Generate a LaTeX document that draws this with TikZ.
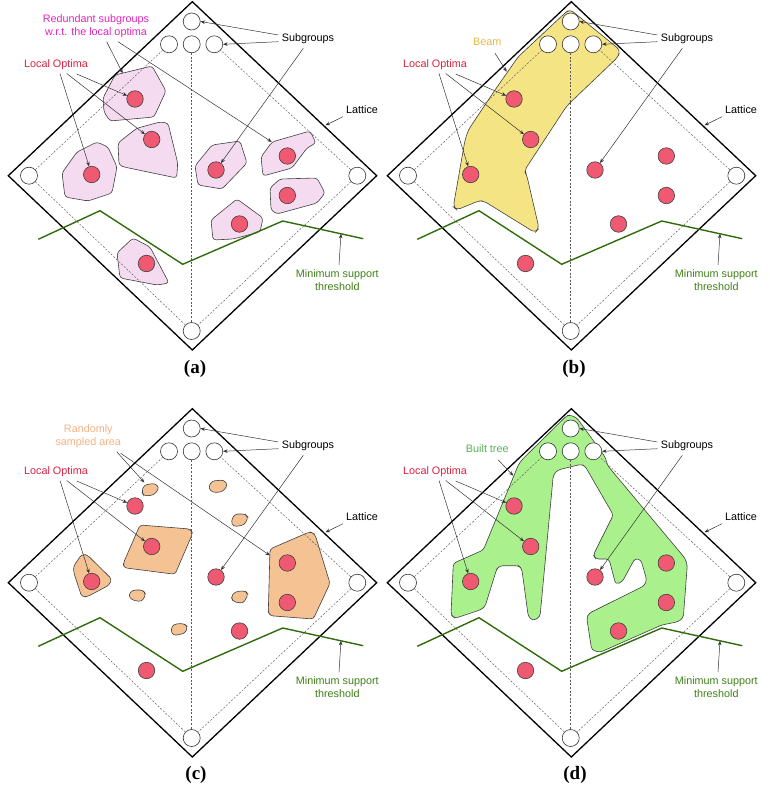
\documentclass[tikz,border=0pt]{standalone}
\usepackage{fontspec}
\setmainfont{Liberation Sans}
\newfontfamily\capfont{Liberation Serif}
\usetikzlibrary{arrows.meta,calc}
\definecolor{dotred}{RGB}{239,90,114}
\definecolor{lored}{RGB}{222,32,62}
\definecolor{redmag}{RGB}{228,36,190}
\definecolor{thrgreen}{RGB}{48,108,12}
\definecolor{thrtext}{RGB}{62,128,22}
\definecolor{pinkfill}{RGB}{245,219,240}
\definecolor{beamfill}{RGB}{245,228,132}
\definecolor{beamtext}{RGB}{226,184,72}
\definecolor{orfill}{RGB}{245,194,148}
\definecolor{ortext}{RGB}{244,178,132}
\definecolor{treefill}{RGB}{170,240,140}
\definecolor{treetext}{RGB}{84,176,84}
\tikzset{
 sg/.style={circle,draw=black!80,line width=0.6pt,fill=white,minimum size=17pt,inner sep=0pt},
 lodot/.style={circle,draw=black!75,line width=0.6pt,fill=dotred,minimum size=16.5pt,inner sep=0pt},
 lat/.style={draw=black,line width=1.3pt,line join=miter},
 dsh/.style={draw=black!65,line width=0.45pt,dash pattern=on 2pt off 1.6pt},
 arr/.style={draw=black!80,line width=0.5pt,-{Stealth[length=4.5pt,width=3.6pt]}},
 lbl/.style={font=\fontsize{10.8}{13}\selectfont,inner sep=0pt,align=center},
 region/.style={draw=black!75,line width=0.6pt,rounded corners=3pt},
 thr/.style={draw=thrgreen,line width=1.4pt,line join=miter},
 capt/.style={font=\capfont\bfseries\fontsize{19}{22}\selectfont,inner sep=0pt},
}
\newcommand\latticebase{%
 \draw[lat] (192.3,1.7) -- (376.7,175.7) -- (192.3,350) -- (8.3,175.7) -- cycle;
 \node[sg] (T) at (191.7,21.5) {};
 \node[sg] (R1) at (169,44.3) {};
 \node[sg] (R2) at (191.7,44.3) {};
 \node[sg] (R3) at (214.3,44.3) {};
 \node[sg] (L) at (29,175.7) {};
 \node[sg] (R) at (357.3,175.7) {};
 \node[sg] (B) at (191.7,331) {};
 \draw[dsh] (L) -- (R1);
 \draw[dsh] (R) -- (R3);
 \draw[dsh] (L) -- (B);
 \draw[dsh] (R) -- (B);
 \draw[dsh] (R2) -- (B);
 \coordinate (g1) at (38.3,239.3);
 \coordinate (g2) at (100,210.7);
 \coordinate (g3) at (182.7,264.3);
 \coordinate (g4) at (282.7,221);
 \coordinate (g5) at (363.3,238.7);
 \draw[thr] (g1) -- (g2) -- (g3) -- (g4) -- (g5);
 \coordinate (msT) at ($(g4)!0.723!(g5)$);
 \coordinate (edgeT) at (325.5,125.3);
 \node[lodot] (d1) at (135,99) {};
 \node[lodot] (d2) at (151.7,139.5) {};
 \node[lodot] (d3) at (91.7,174.5) {};
 \node[lodot] (d4) at (216,170) {};
 \node[lodot] (d5) at (287.3,156) {};
 \node[lodot] (d6) at (287.3,195.5) {};
 \node[lodot] (d7) at (239.5,224) {};
 \node[lodot] (d8) at (146.5,263.5) {};
 \node[lbl] (sub) at (308,39) {Subgroups};
 \node[lbl] (latl) at (362,110) {Lattice};
 \node[lbl,text=lored] (lo) at (56,65) {Local Optima};
 \node[lbl,text=thrtext] (ms) at (337.3,280.3) {Minimum support\\threshold};
 \draw[arr] ($(sub.center)+(-29.7,-4)$) -- (T.east);
 \draw[arr] ($(sub.center)+(-29.7,2.7)$) -- (R3.east);
 \draw[arr] ($(sub.center)+(-4.7,9.3)$) -- (d4);
 \draw[arr] ($(latl.center)+(-19,6.7)$) -- (edgeT);
 \draw[arr] ($(lo.center)+(4,8.5)$) -- (d3);
 \draw[arr] ($(lo.center)+(10.7,8.5)$) -- (d2);
 \draw[arr] ($(lo.center)+(20.7,9)$) -- (d1);
 \draw[arr] ($(ms.center)+(1.7,-15.3)$) -- (msT);
}
\begin{document}
\begin{tikzpicture}[x=1pt,y=-1pt]
\useasboundingbox (0,0) rectangle (769,791);
% ---------------- (a)
\begin{scope}[name prefix=a-]
 \path[region,fill=pinkfill] (103,98) -- (115,75) -- (152,66) -- (166,91) -- (154,117) -- (110,121) -- (104,112) -- cycle;
 \path[region,fill=pinkfill] (118,143) -- (119,165) -- (124,167) -- (176.7,178) -- (177.7,163) -- (168,123) -- (160,122) -- (136.7,128.3) -- cycle;
 \path[region,fill=pinkfill] (62,173) -- (77,152) -- (97,142) -- (108,147) -- (117,167) -- (112,193) -- (88,201) -- (65,197) -- cycle;
 \path[region,fill=pinkfill] (195,166) -- (212,145) -- (240,141) -- (247,163) -- (222,189) -- (198,185) -- cycle;
 \path[region,fill=pinkfill] (261,157) -- (272,142) -- (310,131) -- (316,143) -- (307,148) -- (292,168) -- (263,176) -- cycle;
 \path[region,fill=pinkfill] (270,188) -- (280,179) -- (317,178) -- (325,193) -- (317,203) -- (277,214) -- (271,210) -- cycle;
 \path[region,fill=pinkfill] (211,220) -- (237,199) -- (263,218) -- (260,232) -- (233,239) -- (213,240) -- cycle;
 \path[region,fill=pinkfill] (117,253) -- (133,238) -- (150,247) -- (169,283) -- (157,285) -- (120,278) -- cycle;
 \latticebase
 \node[lbl,text=redmag] (red) at (96,26.7) {Redundant subgroups\\w.r.t. the local optima};
 \coordinate (rt1) at (122.7,73.3);
 \coordinate (rt2) at (271.7,141.9);
 \draw[arr] ($(red.center)+(10.7,15)$) -- (rt1);
 \draw[arr] ($(red.center)+(22,15)$) -- (rt2);
 \node[capt] (cap) at (195,369) {(a)};
\end{scope}
% ---------------- (b)
\begin{scope}[shift={(379,0)},name prefix=b-]
 \path[region,fill=beamfill,rounded corners=4pt] (191,9.3) -- (241,50) -- (239.3,56.7) -- (187.7,106) -- (145.3,170.7) -- (147.7,175) -- (160,228.3) -- (156,232.7) -- (104.3,200.7) -- (99.3,201) -- (77.7,210) -- (74.3,206.7) -- (86,140) -- (89.3,130) -- (116,90) -- (139,57) -- (186,13) -- cycle;
 \latticebase
 \node[lbl,text=beamtext] (beam) at (108.3,41.7) {Beam};
 \coordinate (bt) at (127.7,71.7);
 \draw[arr] ($(beam.center)+(7.7,11.6)$) -- (bt);
 \node[capt] (cap) at (195,369) {(b)};
\end{scope}
% ---------------- (c)
\begin{scope}[shift={(0,407)},name prefix=c-]
 \path[region,fill=orfill] (73.3,159.7) -- (81.7,147.3) -- (87.3,148) -- (111.7,172) -- (109.3,178) -- (87.3,189.7) -- (81.7,189.7) -- (74,166.3) -- cycle;
 \path[region,fill=orfill] (140,118) -- (190,122) -- (192.7,126.3) -- (175,167.3) -- (124,160.7) -- (123.3,156.3) -- cycle;
 \path[region,fill=orfill] (270,142) -- (310,124.7) -- (315,127.3) -- (330,176.3) -- (313.3,212) -- (270,208.7) -- (268.3,204.7) -- cycle;
 \path[region,fill=orfill] (141.7,84.7) -- (144,78) -- (155,76.3) -- (159.3,80.7) -- (154,88) -- (144,89) -- cycle;
 \path[region,fill=orfill] (208.3,81.3) -- (211.7,74) -- (224,73) -- (227.7,78) -- (222.7,84.7) -- (213.3,85.7) -- cycle;
 \path[region,fill=orfill] (231,114) -- (235,107) -- (245,107) -- (248.3,110.3) -- (244.3,118) -- (233.3,119.7) -- cycle;
 \path[region,fill=orfill] (128.3,188) -- (132.7,183) -- (142.7,183) -- (146,187.3) -- (141.7,194.7) -- (131.7,193) -- cycle;
 \path[region,fill=orfill] (231,189.7) -- (235,184.7) -- (245,183.7) -- (248.3,187.3) -- (243.3,196.3) -- (233.3,194.7) -- cycle;
 \path[region,fill=orfill] (170.7,223) -- (173.3,217.3) -- (183.3,216.3) -- (187.7,219.7) -- (185,226.3) -- (173.3,228.7) -- cycle;
 \latticebase
 \node[lbl,text=ortext] (rnd) at (88.3,29.7) {Randomly\\sampled area};
 \coordinate (ct1) at (144.3,75.5);
 \coordinate (ct2) at (270,148.5);
 \draw[arr] ($(rnd.center)+(28.4,15)$) -- (ct1);
 \draw[arr] ($(rnd.center)+(32.4,16.6)$) -- (ct2);
 \node[capt] (cap) at (196,368) {(c)};
\end{scope}
% ---------------- (d)
\begin{scope}[shift={(379,407)},name prefix=d-]
 \path[region,fill=treefill] (191,8) -- (197.7,10.7) -- (226,49.7) -- (228.7,58.7) -- (306,151.3) -- (308.3,158) -- (304.3,210.7) -- (299.3,214.7) -- (282.7,218) -- (221,245.3) -- (212.7,243) -- (207.7,210.7) -- (210,206.3) -- (265.3,178.7) -- (267.7,173) -- (262,153) -- (256,151.3) -- (243.3,174.7) -- (236.7,177.3) -- (230,152) -- (216.7,152) -- (214.3,148) -- (234.3,108) -- (206,59) -- (202,57.3) -- (178.7,63) -- (174.3,68) -- (161,209.7) -- (154.3,213.7) -- (149.3,209.7) -- (142.7,161.3) -- (139.3,158.7) -- (121,158.7) -- (117.7,162) -- (106,199.7) -- (101,203) -- (76,211.3) -- (72,208) -- (74.3,156.3) -- (104.3,143) -- (139.3,58) -- (142.7,53) -- (187.7,8.7) -- cycle;
 \latticebase
 \node[lbl,text=treetext] (tree) at (108.3,41.3) {Built tree};
 \coordinate (dt) at (134.3,68.7);
 \draw[arr] ($(tree.center)+(11,11.7)$) -- (dt);
 \node[capt] (cap) at (196,368) {(d)};
\end{scope}
\end{tikzpicture}
\end{document}
